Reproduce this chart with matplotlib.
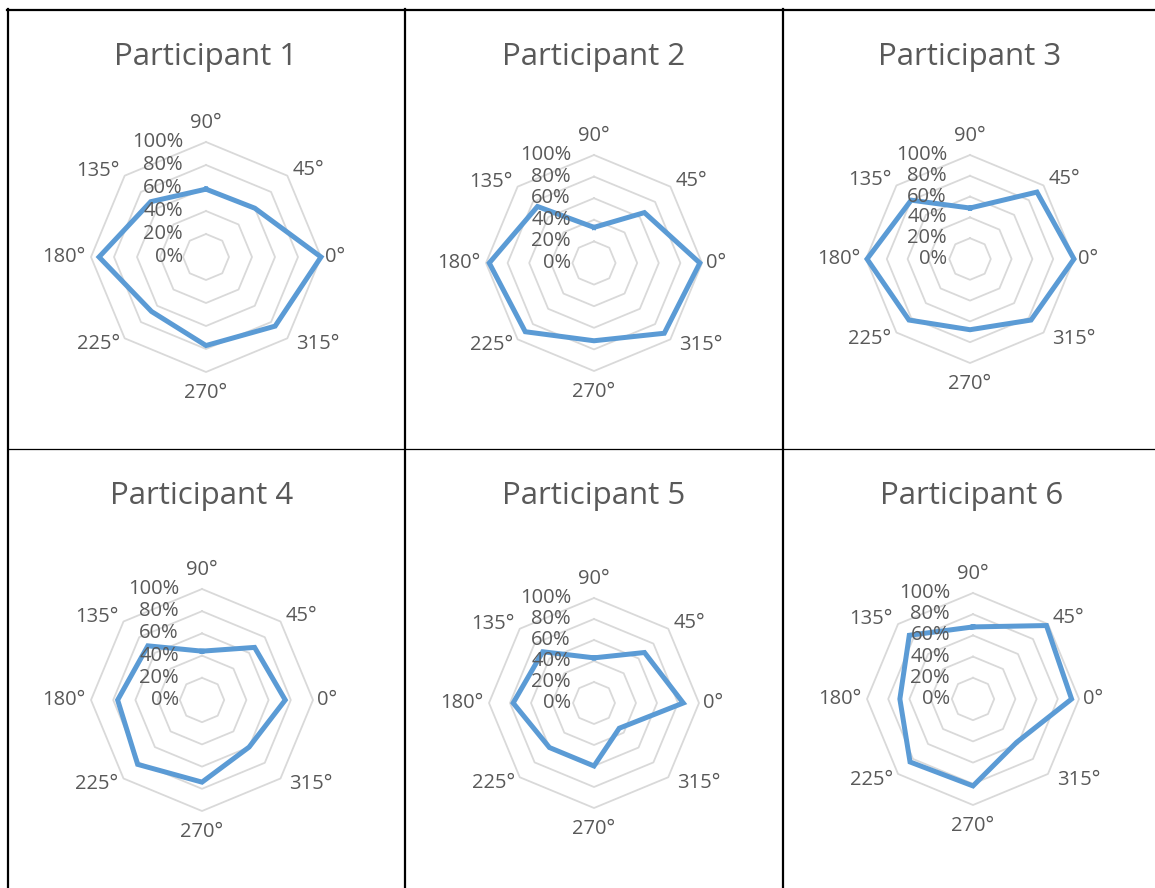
import numpy as np
import matplotlib
matplotlib.use("Agg")
import matplotlib.pyplot as plt
from matplotlib.lines import Line2D

plt.rcParams['font.family'] = ['Open Sans', 'DejaVu Sans']

# Direction categories (degrees), listed clockwise from the top
directions = [90, 45, 0, 315, 270, 225, 180, 135]
direction_labels = ["90°", "45°", "0°", "315°", "270°", "225°", "180°", "135°"]
ring_levels = [0, 20, 40, 60, 80, 100]
ring_labels = ["0%", "20%", "40%", "60%", "80%", "100%"]

titles = ["Participant 1", "Participant 2", "Participant 3",
          "Participant 4", "Participant 5", "Participant 6"]

# Percentage per direction, same order as `directions`
p1 = [59, 60, 100, 85, 77, 67, 93, 68]
p2 = [33, 66, 98, 92, 72, 90, 97, 74]
p3 = [49, 91, 100, 83, 68, 83, 99, 80]
p4 = [44, 67, 75, 60, 74, 82, 76, 69]
p5 = [43, 68, 85, 34, 60, 60, 77, 69]
p6 = [68, 98, 93, 58, 82, 84, 69, 85]
series = [p1, p2, p3, p4, p5, p6]

W, H, DPI = 1155, 888, 100
TEXT = "#595959"
GRID = "#D9D9D9"
LINE = "#5B9BD5"

# plot-area centre (px) and outer radius (px) of each radar
centres = [(206, 257, 115), (594, 263, 108), (970, 259, 104),
           (202, 700, 111), (594, 703, 105), (973, 699, 106)]
title_pos = [(206, 65), (594, 65), (970, 65),
             (202, 504), (594, 504), (972, 504)]

fig = plt.figure(figsize=(W / DPI, H / DPI), dpi=DPI)
fig.patch.set_facecolor("white")

theta = np.deg2rad(directions)
theta_closed = np.append(theta, theta[0])

# label placement around the outer ring: (offset px, ha, va)
label_place = {
    90: ((0, 9), "center", "bottom"),
    45: ((5, -4), "left", "bottom"),
    0: ((4, 0), "left", "center"),
    315: ((9, 4), "left", "top"),
    270: ((0, -11), "center", "top"),
    225: ((-5, 4), "right", "top"),
    180: ((-6, 0), "right", "center"),
    135: ((-5, -5), "right", "bottom"),
}

for (cx, cy, R), vals, title, (tx, ty) in zip(centres, series, titles, title_pos):
    ax = fig.add_axes([(cx - R) / W, (H - cy - R) / H, 2 * R / W, 2 * R / H],
                      projection="polar")
    ax.set_ylim(0, 100)
    ax.grid(False)
    ax.spines["polar"].set_visible(False)
    ax.set_xticks([])
    ax.set_yticks([])
    ax.patch.set_alpha(0)

    # octagonal gridlines
    for lvl in ring_levels[1:]:
        ax.plot(theta_closed, [lvl] * len(theta_closed), color=GRID,
                lw=1.3, zorder=1, clip_on=False)

    # data polygon
    v = np.append(vals, vals[0])
    ax.plot(theta_closed, v, color=LINE, lw=3.6, zorder=3,
            solid_joinstyle="miter", clip_on=False)

    # value axis labels
    for lvl, lab in zip(ring_levels, ring_labels):
        ax.annotate(lab, xy=(np.pi / 2, lvl), xytext=(-23, 0),
                    textcoords="offset pixels", ha="right", va="center",
                    fontsize=14.5, color=TEXT, zorder=4, annotation_clip=False)

    # direction labels
    for d, lab in zip(directions, direction_labels):
        off, ha, va = label_place[d]
        ax.annotate(lab, xy=(np.deg2rad(d), 100), xytext=off,
                    textcoords="offset pixels", ha=ha, va=va,
                    fontsize=14.5, color=TEXT, annotation_clip=False)

    fig.text(tx / W, 1 - ty / H, title, ha="center", va="baseline",
             fontsize=22.5, color=TEXT)

# table cell borders
def hline(y, x0, x1, lw):
    fig.add_artist(Line2D([x0 / W, x1 / W], [1 - y / H, 1 - y / H],
                          color="black", lw=lw, transform=fig.transFigure))

def vline(x, y0, y1, lw):
    fig.add_artist(Line2D([x / W, x / W], [1 - y0 / H, 1 - y1 / H],
                          color="black", lw=lw, transform=fig.transFigure))

hline(10, 7, W, 1.6)
hline(449.5, 8, W, 0.9)
vline(8, 9, H, 1.6)
vline(404.5, 9, H, 1.6)
vline(783, 9, H, 1.6)

fig.savefig("out.png", dpi=DPI)
